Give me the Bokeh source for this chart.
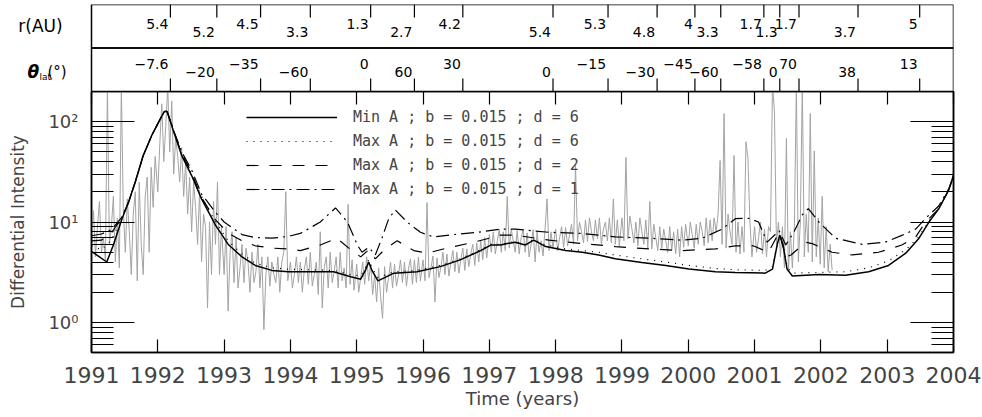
from bokeh.plotting import figure
from bokeh.models import (Range1d, FixedTicker, LinearAxis, LogAxis, BoxAnnotation,
                          Legend, LegendItem)
from bokeh.layouts import column
from bokeh.embed import file_html
from bokeh.resources import INLINE
from bokeh.core.properties import value

# ---------------- data ----------------
years = list(range(1991, 2005))

# observed intensity (grey), one list per year, sampled every 0.03 yr
gray_step = 0.03
g1991 = [6, 13, 4.5, 9, 16, 5, 7, 4.2, 220, 6, 9, 18, 4, 11, 3.5, 230, 13, 5, 17, 8,
         3, 12, 20, 2.6, 25, 6, 3, 18, 28, 5, 35, 14, 45]
g1992 = [20, 60, 150, 40, 90, 220, 50, 160, 30, 70, 45, 25, 55, 18, 40, 12, 28, 8, 25, 14,
         6, 20, 4, 12, 9, 1.4, 10, 3, 16, 6, 25, 3, 9]
g1993 = [3, 9, 1.3, 5, 8, 2.5, 7, 2.2, 3.5, 6, 2.5, 5.5, 4, 2, 5, 2.5, 3.2, 6, 2.2, 4.5,
         0.85, 3, 4.5, 2.3, 4, 3, 2.5, 4.5, 2, 4, 5, 20, 2.6]
g1994 = [4, 2.2, 3, 4.5, 2.5, 4, 2, 3.4, 4.5, 2.4, 5, 2.3, 3, 4, 1.9, 8, 1.4, 3.5, 4.5, 2.2,
         5, 2.5, 3.2, 4.5, 2.2, 5, 2.6, 3.5, 2.2, 15, 2.4, 4.2, 2.1]
g1995 = [3.8, 2, 2.8, 4, 2.4, 4.5, 2.6, 3.8, 1.9, 3, 1.6, 3.5, 1.8, 1.1, 3.6, 2, 2.8, 4, 2.2, 3.8,
         2.3, 3, 4.2, 2.5, 4, 2.3, 3.4, 4.3, 2.4, 4.2, 2.5, 4.5, 2.6]
g1996 = [4.2, 2.6, 15.6, 2.8, 3.5, 4.6, 1.6, 4.4, 2.8, 3.6, 5, 3, 4.8, 2.9, 4, 5.2, 3.2, 5, 3.1, 4.2,
         5.5, 3.3, 5.4, 3.6, 4.8, 6, 3.7, 6.2, 4, 6.5, 4.2, 7, 4.4]
g1997 = [7.5, 5, 8, 4.8, 6.5, 8.5, 5, 8, 5.2, 18, 5.5, 8.5, 6.5, 5, 8.2, 4.8, 7, 8.5, 5, 7.8,
         4.5, 6, 8.4, 4, 8, 5, 6.5, 4.6, 8.5, 17, 5.2, 8, 5.5]
g1998 = [8.5, 5.2, 7, 9, 5.6, 8.8, 5.8, 7.5, 9.5, 6, 37, 6.5, 10, 8, 6.2, 10.5, 6.4, 11, 8, 6.5,
         10.5, 6.8, 11, 6, 8.5, 10, 6.5, 11, 6.2, 17, 6, 10.5, 5.8]
g1999 = [11, 6.5, 44, 6.8, 11.5, 8.5, 6.2, 10, 5.8, 11, 8, 6, 10.5, 5.5, 16, 5.4, 9.5, 7, 5.2, 9,
         5.5, 8.5, 6.5, 5, 9, 5.2, 8, 4.8, 8.5, 4.5, 9, 5.6, 9.5]
g2000 = [5.8, 10, 7.5, 5.5, 9.5, 6, 10, 8, 5.8, 11, 6.2, 10.5, 6.5, 11, 8, 12, 41, 6, 120, 5.5,
         12, 8, 6, 46, 5, 10, 4.8, 9, 5, 63, 43, 10, 4.5]
g2001 = [9, 5, 7, 10, 4.8, 8.5, 4.5, 9, 8, 230, 124, 6, 10, 4.5, 9, 3.5, 68, 3.2, 8, 3.5,
         9, 230, 4, 10, 230, 4.5, 12, 5, 120, 4, 51, 4.5, 11, 3.8, 18, 3.5, 9, 3.2, 6, 3.3]
gray_years = [(1991, g1991), (1992, g1992), (1993, g1993), (1994, g1994), (1995, g1995),
              (1996, g1996), (1997, g1997), (1998, g1998), (1999, g1999), (2000, g2000),
              (2001, g2001)]

# model curves
solid_t = [1991.00, 1991.12, 1991.23, 1991.33, 1991.46, 1991.56, 1991.66, 1991.78, 1991.91,
           1992.04, 1992.10, 1992.14, 1992.24, 1992.36, 1992.51, 1992.66, 1992.87, 1993.07,
           1993.27, 1993.47, 1993.72, 1993.97, 1994.27, 1994.65, 1994.91, 1995.06, 1995.13,
           1995.18, 1995.23, 1995.32, 1995.56, 1995.91, 1996.26, 1996.56, 1996.87, 1997.02,
           1997.17, 1997.27, 1997.39, 1997.54, 1997.67, 1997.85, 1998.15, 1998.40, 1998.65,
           1998.90, 1999.30, 1999.66, 2000.01, 2000.41, 2000.71, 2001.16, 2001.27, 2001.34,
           2001.38, 2001.43, 2001.49, 2001.57, 2001.97, 2002.37, 2002.72, 2003.02, 2003.28,
           2003.48, 2003.63, 2003.78, 2003.93, 2004.00]
solid_v = [5.1, 4.5, 4.0, 5.9, 10.8, 15.8, 25, 46, 73, 107, 126, 126, 79, 46, 29, 17, 9.3, 5.9,
           4.5, 3.7, 3.3, 3.2, 3.2, 3.2, 2.85, 2.7, 3.3, 4.0, 3.3, 2.6, 3.1, 3.2, 3.6, 4.2, 5.2,
           5.9, 5.9, 6.1, 6.3, 5.9, 6.6, 5.7, 5.2, 5.0, 4.7, 4.3, 3.95, 3.7, 3.4, 3.2, 3.15, 3.1,
           3.4, 5.9, 7.4, 5.9, 3.4, 2.9, 3.0, 2.95, 3.2, 3.7, 4.9, 6.9, 10, 13.6, 21, 29]

dotted_t = [1991.00, 1991.15, 1991.30, 1991.45, 1991.56, 1991.66, 1991.78, 1991.91, 1992.04,
            1992.10, 1992.14, 1992.24, 1992.36, 1992.51, 1992.66, 1992.87, 1993.07, 1993.27,
            1993.47, 1993.72, 1993.97, 1994.27, 1994.65, 1994.91, 1995.06, 1995.13, 1995.18,
            1995.23, 1995.32, 1995.56, 1995.91, 1996.26, 1996.56, 1996.87, 1997.02, 1997.17,
            1997.27, 1997.39, 1997.54, 1997.67, 1997.85, 1998.15, 1998.40, 1998.65, 1998.90,
            1999.30, 1999.66, 2000.01, 2000.41, 2000.71, 2001.16, 2001.27, 2001.34, 2001.38,
            2001.43, 2001.49, 2001.57, 2001.97, 2002.37, 2002.72, 2003.02, 2003.28, 2003.48,
            2003.63, 2003.78, 2003.93, 2004.00]
dotted_v = [5.8, 5.3, 6.6, 10.8, 15.8, 25, 46, 73, 107, 126, 126, 80, 47, 30, 18, 10, 6.4, 4.8,
            3.9, 3.5, 3.4, 3.35, 3.3, 3.0, 2.9, 3.5, 4.2, 3.5, 2.8, 3.2, 3.3, 3.7, 4.3, 5.3, 6.0,
            6.0, 6.2, 6.4, 6.0, 6.7, 5.9, 5.4, 5.2, 5.0, 4.7, 4.3, 4.0, 3.7, 3.45, 3.35, 3.3, 3.6,
            6.0, 7.5, 6.0, 3.6, 3.1, 3.15, 3.2, 3.5, 4.1, 5.3, 7.2, 10.2, 13.8, 21, 29]

dashed_t = [1991.00, 1991.15, 1991.30, 1991.45, 1991.56, 1991.66, 1991.78, 1991.91, 1992.04,
            1992.10, 1992.14, 1992.24, 1992.36, 1992.51, 1992.66, 1992.87, 1993.07, 1993.27,
            1993.47, 1993.72, 1993.97, 1994.15, 1994.45, 1994.70, 1994.91, 1995.06, 1995.18,
            1995.28, 1995.43, 1995.61, 1995.86, 1996.06, 1996.36, 1996.77, 1997.17, 1997.39,
            1997.90, 1998.40, 1998.90, 1999.41, 1999.91, 2000.41, 2000.71, 2000.98, 2001.21,
            2001.37, 2001.47, 2001.55, 2001.77, 2001.87, 2002.17, 2002.47, 2002.87, 2003.22,
            2003.43, 2003.58, 2003.78, 2003.93, 2004.00]
dashed_v = [6.5, 6.6, 7.8, 10.8, 15.8, 25, 46, 73, 107, 126, 126, 80, 48, 31, 17.5, 10.5, 7.7,
            6.5, 5.8, 5.5, 5.4, 5.2, 5.9, 6.9, 5.3, 4.5, 5.3, 4.3, 5.4, 6.5, 5.2, 4.9, 5.5, 6.3,
            7.4, 7.4, 6.6, 6.1, 5.7, 5.4, 5.2, 5.4, 5.8, 5.8, 5.0, 7.9, 4.5, 4.7, 6.3, 6.1, 5.0,
            4.7, 5.0, 5.9, 7.1, 10, 13.6, 21, 29]

dashdot_t = [1991.00, 1991.15, 1991.30, 1991.45, 1991.56, 1991.66, 1991.78, 1991.91, 1992.04,
             1992.10, 1992.14, 1992.24, 1992.36, 1992.51, 1992.66, 1992.87, 1993.00, 1993.27,
             1993.47, 1993.72, 1993.97, 1994.15, 1994.45, 1994.68, 1994.86, 1995.01, 1995.08,
             1995.18, 1995.28, 1995.38, 1995.48, 1995.58, 1995.76, 1995.96, 1996.16, 1996.46,
             1996.82, 1997.17, 1997.39, 1997.90, 1998.40, 1998.90, 1999.41, 1999.91, 2000.21,
             2000.51, 2000.71, 2000.91, 2001.06, 2001.19, 2001.37, 2001.47, 2001.59, 2001.72,
             2001.81, 2001.97, 2002.22, 2002.62, 2002.97, 2003.23, 2003.43, 2003.58, 2003.78,
             2003.93, 2004.00]
dashdot_v = [7.3, 7.6, 8.4, 11, 15.8, 25, 46, 73, 107, 126, 126, 81, 50, 33, 19, 12.5, 10, 7.5,
             7.0, 6.9, 7.2, 7.7, 10, 13.8, 10, 5.9, 5.0, 5.6, 4.7, 6.9, 10.7, 13.2, 10, 7.9, 7.1,
             7.5, 7.9, 8.5, 8.5, 7.9, 7.7, 7.1, 6.9, 6.6, 6.9, 8.5, 10.8, 10.9, 10, 6.3, 8.2, 5.9,
             7.9, 11.8, 13.6, 10, 6.9, 6.0, 6.3, 7.4, 8.5, 10.9, 14.5, 21.5, 29]

legend_labels = ["Min A ; b = 0.015 ; d = 6", "Max A ; b = 0.015 ; d = 6",
                 "Max A ; b = 0.015 ; d = 2", "Max A ; b = 0.015 ; d = 1"]

# spacecraft position markers (top bands)
uly_t = [1992.19, 1992.89, 1993.55, 1994.30, 1995.21, 1995.87, 1996.60, 1997.96, 1998.79,
         1999.53, 2000.10, 2000.49, 2001.14, 2001.38, 2001.67, 2002.56, 2003.49]
uly_r = ["5.4", "5.2", "4.5", "3.3", "1.3", "2.7", "4.2", "5.4", "5.3", "4.8", "4", "3.3",
         "1.7", "1.3", "1.7", "3.7", "5"]
uly_lat = ["\u22127.6", "\u221220", "\u221235", "\u221260", "0", "60", "30", "0", "\u221215",
           "\u221230", "\u221245", "\u221260", "\u221258", "0", "70", "38", "13"]

y_major = [1, 10, 100]
y_major_labels = {1: "10\u2070", 10: "10\u00b9", 100: "10\u00b2"}
y_minor = [0.6, 0.7, 0.8, 0.9, 2, 3, 4, 5, 6, 7, 8, 9, 20, 30, 40, 50, 60, 70, 80, 90]

# ---------------- layout constants ----------------
FONT = "DejaVu Sans"
X0, X1 = 1991, 2004
FRAME_L, FRAME_R = 91, 953
W, H = 982, 417
TOP_H = 91
PX_PER_YR = (FRAME_R - FRAME_L) / float(X1 - X0)


def px2x(px):
    return X0 + (px - FRAME_L) / PX_PER_YR


assert len(solid_t) == len(solid_v)
assert len(dotted_t) == len(dotted_v)
assert len(dashed_t) == len(dashed_v)
assert len(dashdot_t) == len(dashdot_v)

gray_t, gray_v = [], []
for yr, vals in gray_years:
    for i, v in enumerate(vals):
        gray_t.append(yr + gray_step * i)
        gray_v.append(v)

# ---------------- main panel ----------------
p = figure(width=W, height=H - TOP_H, x_range=Range1d(X0, X1), y_range=Range1d(0.503, 199),
           y_axis_type="log", output_backend="svg", toolbar_location=None,
           min_border_left=FRAME_L, min_border_right=W - FRAME_R, min_border_top=0,
           min_border_bottom=65, background_fill_color="white", border_fill_color="white")
p.frame_align = False
p.grid.visible = False
p.outline_line_color = "black"
p.outline_line_width = 1.5

xb = p.below[0]
xb.ticker = FixedTicker(ticks=years)
xb.major_label_overrides = {y: str(y) for y in years}
xb.major_tick_in = 13
xb.major_tick_out = 0
xb.minor_tick_in = 0
xb.minor_tick_out = 0
xb.axis_line_width = 1.5
xb.major_tick_line_width = 1.2
xb.major_label_text_font = FONT
xb.major_label_text_font_size = "22px"
xb.major_label_standoff = 14
xb.axis_label = "Time (years)"
xb.axis_label_text_font = FONT
xb.axis_label_text_font_size = "18px"
xb.axis_label_text_font_style = "normal"
xb.axis_label_standoff = 2

yl = p.left[0]
yl.ticker = FixedTicker(ticks=y_major, minor_ticks=y_minor)
yl.major_label_overrides = y_major_labels
yl.major_tick_in = 43
yl.major_tick_out = 0
yl.minor_tick_in = 22
yl.minor_tick_out = 0
yl.axis_line_width = 1.5
yl.major_tick_line_width = 1.2
yl.minor_tick_line_width = 1.2
yl.major_label_text_font = FONT
yl.major_label_text_font_size = "18px"
yl.major_label_standoff = 13
yl.axis_label = "Differential Intensity"
yl.axis_label_text_font = FONT
yl.axis_label_text_font_size = "17px"
yl.axis_label_text_font_style = "normal"
yl.axis_label_standoff = 17

yr_ax = LogAxis(ticker=FixedTicker(ticks=y_major, minor_ticks=y_minor),
                major_label_overrides={t: "" for t in y_major},
                major_label_text_font_size="1px", major_label_standoff=0,
                major_tick_in=43, major_tick_out=0, minor_tick_in=22, minor_tick_out=0,
                axis_line_width=1.5, major_tick_line_width=1.2, minor_tick_line_width=1.2)
p.add_layout(yr_ax, "right")

xt_ax = LinearAxis(ticker=FixedTicker(ticks=years),
                   major_label_overrides={t: "" for t in years},
                   major_label_text_font_size="1px",
                   major_label_standoff=0, major_tick_in=13, major_tick_out=0,
                   minor_tick_in=0, minor_tick_out=0, axis_line_width=1.5,
                   major_tick_line_width=1.2)
p.add_layout(xt_ax, "above")

p.line(gray_t, gray_v, line_color="#a3a3a3", line_width=1)
r1 = p.line(solid_t, solid_v, line_color="black", line_width=1.5)
r2 = p.line(dotted_t, dotted_v, line_color="black", line_width=1.2, line_dash="1 6")
r3 = p.line(dashed_t, dashed_v, line_color="black", line_width=1.2, line_dash="12 11")
r4 = p.line(dashdot_t, dashdot_v, line_color="black", line_width=1.2, line_dash="13 5 2 5")

legend = Legend(items=[LegendItem(label=value(lbl), renderers=[r])
                       for lbl, r in zip(legend_labels, [r1, r2, r3, r4])],
                location=(155, 153), glyph_width=91, glyph_height=20, label_height=20,
                spacing=4, padding=0, margin=0, label_standoff=16,
                label_text_font="DejaVu Sans Mono", label_text_font_size="15px",
                border_line_alpha=0, background_fill_alpha=0)
p.add_layout(legend)

# ---------------- top bands (frame spans the full width so the titles fit) ----------------
top = figure(width=W, height=TOP_H, x_range=Range1d(px2x(0), X1), y_range=Range1d(0, 2),
             output_backend="svg", toolbar_location=None,
             x_axis_location=None, y_axis_location=None,
             min_border_left=0, min_border_right=W - FRAME_R, min_border_top=4,
             min_border_bottom=0, background_fill_color="white", border_fill_color="white")
top.frame_align = False
top.grid.visible = False
top.outline_line_color = None
for b0, b1 in [(1, 2), (0, 1)]:
    top.add_layout(BoxAnnotation(left=X0, right=X1, bottom=b0, top=b1, fill_alpha=0,
                                 line_color="black", line_width=1.5, line_alpha=1))

n = len(uly_t)
top.segment(x0=uly_t, y0=[2.0] * n, x1=uly_t, y1=[1.70] * n, line_color="black", line_width=1.2)
top.segment(x0=uly_t, y0=[0.0] * n, x1=uly_t, y1=[0.30] * n, line_color="black", line_width=1.2)

r_y = [1.563 if i % 2 == 0 else 1.379 for i in range(n)]
lat_y = [0.621 if i % 2 == 0 else 0.437 for i in range(n)]
top.text(x=uly_t, y=r_y, text=uly_r, text_align="right", text_baseline="middle",
         x_offset=-2, text_font=value(FONT), text_font_size="14px", text_color="black")
top.text(x=uly_t, y=lat_y, text=uly_lat, text_align="right", text_baseline="middle",
         x_offset=-2, text_font=value(FONT), text_font_size="14px", text_color="black")

top.text(x=[px2x(40)], y=[1.517], text=["r(AU)"], text_align="center", text_baseline="middle",
         text_font=value(FONT), text_font_size="17px", text_color="black")
top.text(x=[px2x(27)], y=[0.437], text=["\u03b8"], text_align="left", text_baseline="middle",
         text_font=value(FONT), text_font_size="17px", text_font_style="bold italic",
         text_color="black")
top.text(x=[px2x(39)], y=[0.333], text=["lat"], text_align="left", text_baseline="middle",
         text_font=value(FONT), text_font_size="9px", text_color="black")
top.text(x=[px2x(47)], y=[0.437], text=["(\u00b0)"], text_align="left", text_baseline="middle",
         text_font=value(FONT), text_font_size="15px", text_color="black")

layout = column(top, p, spacing=0)
open("out.html", "w").write(file_html(layout, INLINE))
